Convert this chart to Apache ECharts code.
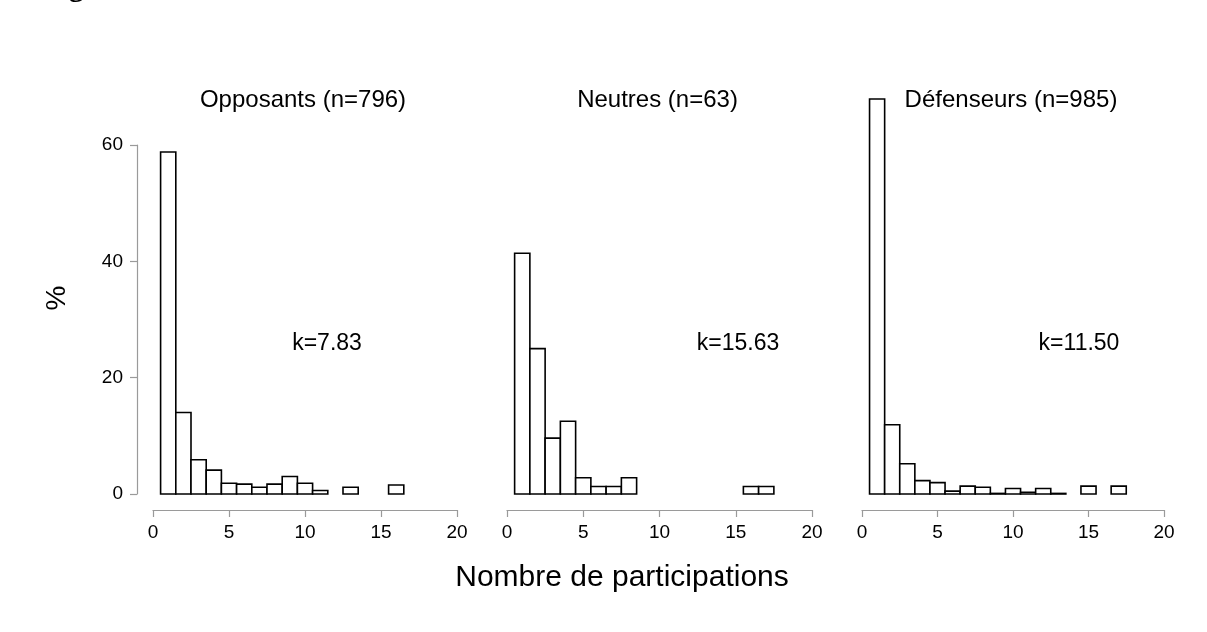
<!DOCTYPE html>
<html>
<head>
<meta charset="utf-8">
<script src="https://cdn.jsdelivr.net/npm/echarts@6/dist/echarts.min.js"></script>
<style>
  html, body { margin: 0; padding: 0; background: #ffffff; }
  #chart { width: 1207px; height: 632px; }
</style>
</head>
<body>
<div id="chart"></div>
<script>
// Number of participations (bin centres) and share of each group (%)
const oppCounts = [1, 2, 3, 4, 5, 6, 7, 8, 9, 10, 11, 13, 16];
const oppPct    = [58.8, 14.0, 5.9, 4.1, 1.85, 1.7, 1.15, 1.7, 3.0, 1.85, 0.6, 1.15, 1.55];

const neuCounts = [1, 2, 3, 4, 5, 6, 7, 8, 16, 17];
const neuPct    = [41.4, 25.0, 9.6, 12.5, 2.8, 1.3, 1.3, 2.8, 1.3, 1.3];

const defCounts = [1, 2, 3, 4, 5, 6, 7, 8, 9, 10, 11, 12, 13, 15, 17];
const defPct    = [67.9, 11.9, 5.2, 2.3, 1.95, 0.5, 1.35, 1.15, 0.1, 0.95, 0.3, 0.95, 0.1, 1.35, 1.35];

const panelNames = ['Opposants', 'Neutres', 'Défenseurs'];
const panelN     = [796, 63, 985];
const kValues    = ['7.83', '15.63', '11.50'];

const xTicks = { min: 0, max: 20, interval: 5 };
const yTicks = { min: 0, max: 60, interval: 20 };

const xAxisTitle = 'Nombre de participations';
const yAxisTitle = '%';

const panels = [
  { counts: oppCounts, pct: oppPct },
  { counts: neuCounts, pct: neuPct },
  { counts: defCounts, pct: defPct }
];

// Plot areas (pixels)
const gridBoxes = [
  { left: 153, width: 304 },
  { left: 507, width: 305 },
  { left: 862, width: 302 }
];
const gridTop = 145, gridHeight = 349;

const FONT = '"Liberation Sans", Arial, Helvetica, sans-serif';
const AXIS_GREY = '#9a9a9a';

const chart = echarts.init(document.getElementById('chart'), null, { renderer: 'canvas' });

const grids = gridBoxes.map(g => ({ left: g.left, width: g.width, top: gridTop, height: gridHeight }));

const xAxes = gridBoxes.map((g, i) => ({
  type: 'value', gridIndex: i,
  min: xTicks.min, max: xTicks.max, interval: xTicks.interval,
  offset: 16,
  axisLine: { show: true, onZero: false, lineStyle: { color: AXIS_GREY, width: 1.2 } },
  axisTick: { show: true, length: 7, lineStyle: { color: AXIS_GREY, width: 1.2 } },
  axisLabel: { color: '#000', fontFamily: FONT, fontSize: 19, margin: 13 },
  splitLine: { show: false }
}));

const yAxes = gridBoxes.map((g, i) => ({
  type: 'value', gridIndex: i,
  min: yTicks.min, max: yTicks.max, interval: yTicks.interval,
  show: i === 0,
  offset: 16,
  axisLine: { show: true, onZero: false, lineStyle: { color: AXIS_GREY, width: 1.2 } },
  axisTick: { show: true, length: 7, lineStyle: { color: AXIS_GREY, width: 1.2 } },
  axisLabel: { color: '#000', fontFamily: FONT, fontSize: 19, margin: 14 },
  splitLine: { show: false }
}));

// Histogram bars: each bin spans [count - 0.5, count + 0.5]
const series = panels.map((p, i) => ({
  type: 'custom',
  xAxisIndex: i, yAxisIndex: i,
  clip: false,
  data: p.counts.map((c, j) => [c, p.pct[j]]),
  renderItem: function (params, api) {
    const c = api.value(0), v = api.value(1);
    const tl = api.coord([c - 0.5, v]);
    const br = api.coord([c + 0.5, 0]);
    return {
      type: 'rect',
      shape: { x: tl[0], y: tl[1], width: br[0] - tl[0], height: br[1] - tl[1] },
      style: { fill: '#ffffff', stroke: '#000000', lineWidth: 1.6 }
    };
  }
}));

const graphics = [];
gridBoxes.forEach((g, i) => {
  graphics.push({
    type: 'text', x: g.left + g.width / 2 - 2, y: 100,
    style: { text: panelNames[i] + ' (n=' + panelN[i] + ')', fontFamily: FONT, fontSize: 24,
             fill: '#000', textAlign: 'center', textVerticalAlign: 'middle' }
  });
});
const kCentres = [327, 738, 1079];
kCentres.forEach((x, i) => {
  graphics.push({
    type: 'text', x: x, y: 344,
    style: { text: 'k=' + kValues[i], fontFamily: FONT, fontSize: 23,
             fill: '#000', textAlign: 'center', textVerticalAlign: 'middle' }
  });
});
graphics.push({
  type: 'text', x: 622, y: 578,
  style: { text: xAxisTitle, fontFamily: FONT, fontSize: 30, fill: '#000',
           textAlign: 'center', textVerticalAlign: 'middle' }
});
graphics.push({
  type: 'text', x: 57, y: 298, rotation: Math.PI / 2,
  style: { text: yAxisTitle, fontFamily: FONT, fontSize: 28, fill: '#000',
           textAlign: 'center', textVerticalAlign: 'middle' }
});
// Figure heading running off the top edge
graphics.push({
  type: 'text', x: 42, y: -27,
  style: { text: 'Figure', fontFamily: '"Liberation Serif", "Times New Roman", serif',
           fontWeight: 'bold', fontSize: 30, fill: '#000',
           textAlign: 'left', textVerticalAlign: 'top' }
});

chart.setOption({
  backgroundColor: '#ffffff',
  animation: false,
  grid: grids,
  xAxis: xAxes,
  yAxis: yAxes,
  series: series,
  graphic: graphics
});
</script>
</body>
</html>
